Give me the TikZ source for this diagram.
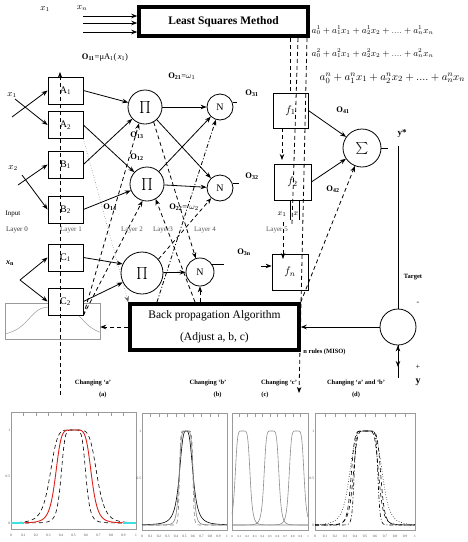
\documentclass[tikz,border=0pt]{standalone}
\usepackage{fontspec}
\setmainfont{Liberation Serif}
\usepackage{amsmath}
\usetikzlibrary{arrows.meta, positioning}
\definecolor{PlotGray}{HTML}{9A9A9A}
\definecolor{LayerGray}{HTML}{555555}
\definecolor{BellRed}{HTML}{E0201B}
\definecolor{BellCyan}{HTML}{3FE0E0}
% generalised bell, clamped so pgfmath stays in range
\newcommand{\gbell}[3]{1/(1+exp(max(min(2*#3*ln(abs((\x-#1)/#2)+0.0001),9),-9)))}

\begin{document}
\begin{tikzpicture}[x=1pt, y=-1pt, line width=0.8pt,
  layerbox/.style={rectangle, draw, fill=white, minimum width=35pt, minimum height=27pt, inner sep=0pt,
    font=\fontsize{10}{10}\selectfont},
  funcbox/.style={rectangle, draw, minimum width=36pt, minimum height=36pt, inner sep=0pt,
    font=\fontsize{11}{11}\selectfont},
  algobox/.style={rectangle, draw, line width=3.5pt, inner sep=0pt, align=center},
  pinode/.style={circle, draw, minimum size=34pt, inner sep=0pt, font=\fontsize{12}{12}\selectfont},
  nnode/.style={circle, draw, minimum size=26pt, inner sep=0pt, font=\fontsize{10}{10}\selectfont},
  olabel/.style={font=\bfseries\fontsize{8.5}{9}\selectfont, inner sep=0pt},
  layerlabel/.style={font=\fontsize{7}{7}\selectfont, text=LayerGray, inner sep=0pt},
  changelabel/.style={font=\bfseries\fontsize{6.5}{7}\selectfont, inner sep=0pt},
  ticklabel/.style={font=\fontsize{3.5}{4}\selectfont, inner sep=0.5pt, text=black!70},
  plotframe/.style={draw=PlotGray, line width=0.4pt},
  arrow/.style={-{Stealth[length=6pt,width=4.5pt]}},
  dashline/.style={dash pattern=on 4pt off 3pt},
  dashdotline/.style={dash pattern=on 4pt off 2pt on 1pt off 2pt}
]
\useasboundingbox (0,0) rectangle (467,542);

% small membership plot behind C2
\node[plotframe, minimum width=95pt, minimum height=36pt, inner sep=0pt] (mf) at (52.5,321) {};
\begin{scope}[shift={(5,337)}, xscale=95, yscale=-30]
  \draw[PlotGray, line width=0.5pt] plot[domain=0:1, samples=80] (\x,{\gbell{0.53}{0.31}{2}});
\end{scope}

% least squares block
\node[algobox, minimum width=169pt, minimum height=29pt, font=\bfseries\fontsize{11.5}{12}\selectfont]
  (lsm) at (223.5,21.5) {Least Squares Method};
\node[font=\fontsize{9}{9}\selectfont] (xa) at (45,9) {$x_1$};
\node[font=\fontsize{9}{9}\selectfont] (xb) at (82,8) {$x_n$};
\foreach \yy [count=\i] in {16,23,32} {
  \coordinate (lsin\i) at (83,\yy);
  \draw[arrow] (lsin\i) -- (lsin\i -| lsm.west);
}
\node[anchor=west, font=\fontsize{9}{9}\selectfont] (eq1) at (308,30) {$a_0^1+a_1^1x_1+a_2^1x_2+....+a_n^1x_n$};
\node[anchor=west, font=\fontsize{9}{9}\selectfont] (eq2) at (308,53) {$a_0^2+a_1^2x_1+a_2^2x_2+....+a_n^2x_n$};
\node[anchor=west, font=\fontsize{11}{11}\selectfont] (eq3) at (316,78) {$a_0^n+a_1^nx_1+a_2^nx_2+....+a_n^nx_n$};

% layer 1
\node[layerbox] (a1) at (65.5,90.5) {A\textsubscript{1}};
\node[layerbox] (a2) at (65.5,125) {A\textsubscript{2}};
\node[layerbox] (b1) at (65.5,164.5) {B\textsubscript{1}};
\node[layerbox] (b2) at (65.5,209.5) {B\textsubscript{2}};
\node[layerbox] (c1) at (65.5,257.5) {C\textsubscript{1}};
\node[layerbox] (c2) at (65.5,301.5) {C\textsubscript{2}};

% layers 2 and 3
\node[pinode] (p1) at (145,107) {$\prod$};
\node[pinode] (p2) at (147,184) {$\prod$};
\node[pinode, minimum size=42pt] (p3) at (142,273) {$\prod$};
\node[nnode] (n1) at (220,107) {N};
\node[nnode] (n2) at (220,188) {N};
\node[nnode, minimum size=28pt] (n3) at (200,272) {N};

% layer 5 and output
\node[funcbox, minimum width=35pt, minimum height=35pt] (f1) at (290.5,110.5) {$f_1$};
\node[funcbox, minimum width=37pt] (f2) at (292.5,182) {$f_2$};
\node[funcbox] (fn) at (290,272) {$f_n$};
\node[circle, draw, minimum size=38pt, inner sep=0pt, font=\fontsize{12}{12}\selectfont] (s) at (362,148) {$\sum$};
\node[circle, draw, minimum size=36pt, inner sep=0pt] (err) at (398,327) {};
\node[algobox, minimum width=169pt, minimum height=46pt, font=\fontsize{11.5}{22}\selectfont]
  (bp) at (214.5,327) {Back propagation Algorithm\\(Adjust a, b, c)};

% inputs
\node[font=\fontsize{9}{9}\selectfont] (x1) at (12,95) {$x_1$};
\node[font=\fontsize{9}{9}\selectfont] (x2) at (13,168) {$x_2$};
\node[font=\bfseries\fontsize{8}{8}\selectfont] (xn) at (10,263) {\textit{x}\textsubscript{n}};
\coordinate (x1u) at (12,117);
\coordinate (x1d) at (15,99);
\coordinate (x2u) at (18,185);
\coordinate (x2d) at (22,175);
\coordinate (xnin) at (20,280);
\draw[arrow] (x1u) -- (a1.west);
\draw[arrow] (x1d) -- (a2.west);
\draw[arrow] (x2u) -- (b1.west);
\draw[arrow] (x2d) -- (b2.west);
\draw[arrow] (xnin) -- (c1.west);
\draw[arrow] (xnin) -- (c2.west);

% forward connections
\draw[arrow] (a1.east) -- (p1);
\draw[arrow] (a2.east) -- (p2);
\draw[arrow] (b1.east) -- (p1);
\draw[arrow] (b2.east) -- (p2);
\draw[arrow] (c1.east) -- (p3.155);
\draw[arrow] (c2.east) -- (p3);
\draw[arrow] (p1) -- (n1);
\draw[arrow] (p1) -- (n2);
\draw[arrow] (p2) -- (n2);
\draw[arrow] (p2) -- (n1);
\draw[arrow] (p3) -- (n3);
\draw (n1.20) -- ++(4,0);
\draw (n2.20) -- ++(6,0);
\draw (n3.30) -- ++(12,0);
\coordinate (fnin) at (261,266);
\draw[arrow] (fnin) -- (fnin -| fn.west);
\draw[arrow] (f1.east) -- (s);
\draw[arrow] (f2.east) -- (s);
\draw (s.east) -- ++(7,0);
\coordinate (ystar) at (398,146);
\draw (ystar) -- (err.north);
\draw[arrow] (err.west) -- (bp.east);
\coordinate (yin) at (398,378);
\coordinate (ydown) at (398,367);
\draw[arrow] (yin) -- (err.south);
\draw[arrow] (err.south) -- (ydown);
\coordinate (x1t) at (290,200);
\coordinate (x2t) at (299,200);
\draw (x1t) -- ++(0,20);
\draw (x2t) -- ++(0,20);

% least squares paths
\coordinate (ls1) at (290,38);
\coordinate (ls2) at (298,38);
\coordinate (ls3) at (307,38);
\coordinate (ls2e) at (292,224);
\coordinate (ls3e) at (299,393);
\draw[dashline] (ls1) -- (ls1 |- f1.north);
\draw[dashline] (ls2) -- (ls2e);
\draw[arrow, dashline] (ls3) -- (ls3e);
\coordinate (f1d) at (282,128);
\coordinate (f2u) at (282,160);
\coordinate (l5d) at (283,222);
\coordinate (fnu) at (283,259);
\draw[arrow, dashline] (f1d) -- (f2u);
\draw[arrow, dashline] (l5d) -- (fnu);

% backward paths
\coordinate (atop) at (60,72);
\coordinate (abot) at (60,395);
\draw[arrow, dashline] (abot) -- (atop);
\draw[arrow, dashline] (c2.south east) -- (p1.250);
\draw[arrow, dashline] (c2.south east) -- (p2.255);
\draw[arrow, dotted, line width=0.5pt, black!60] (a2.south east) -- (bp.north west);
\coordinate (bpa) at (157,302);
\coordinate (bpb) at (195,302);
\coordinate (bpc) at (200,302);
\draw[arrow, dashdotline] (bpa) -- (n1);
\draw[arrow, dashline] (bpb) -- (p2.300);
\draw[arrow, dashline] (bpc) -- (n3.south);
\draw[arrow, dashline] (p3.40) -- (n2);
\draw[arrow, dashline] (p1.300) -- (n3);
\draw[arrow, dashline] (bp.north east) -- (s);
\draw[arrow, dashline] (bp.west) -- (bp.west -| mf.east);

% labels
\node[olabel] (o11) at (105,57) {O\textsubscript{11}\textmd{=μA\textsubscript{1}(\,\textit{x}\textsubscript{1})}};
\node[olabel] (o21) at (182,76) {O\textsubscript{21}\textmd{=$\omega_1$}};
\node[olabel] (o13) at (137,135) {O\textsubscript{13}};
\node[olabel] (o12) at (137,157) {O\textsubscript{12}};
\node[olabel] (o14) at (110,207) {O\textsubscript{14}};
\node[olabel] (o22) at (184,207) {O\textsubscript{22}\textmd{= $\omega_2$}};
\node[olabel] (o31) at (252,93) {O\textsubscript{31}};
\node[olabel] (o32) at (252,176) {O\textsubscript{32}};
\node[olabel] (o3n) at (244,252) {O\textsubscript{3n}};
\node[olabel] (o41) at (343,110) {O\textsubscript{41}};
\node[olabel] (o42) at (333,189) {O\textsubscript{42}};
\node[olabel, font=\bfseries\fontsize{9}{9}\selectfont] (ys) at (402,133) {y*};
\node[changelabel] (tgt) at (413,277) {Target};
\node[font=\fontsize{8}{8}\selectfont] (minus) at (418,303) {-};
\node[font=\fontsize{8}{8}\selectfont] (plus) at (418,367) {+};
\node[font=\bfseries\fontsize{10}{10}\selectfont] (yout) at (418,382) {y};
\node[changelabel, anchor=west] (miso) at (303,352) {n rules (MISO)};
\node[font=\fontsize{7}{7}\selectfont, inner sep=0pt] (inp) at (13,214) {Input};
\node[layerlabel, text=black!80] (l0) at (17,230) {Layer 0};
\node[layerlabel] (l1) at (71,230) {Layer 1};
\node[layerlabel] (l2) at (132,230) {Layer 2};
\node[layerlabel] (l3) at (163,230) {Layer3};
\node[layerlabel] (l4) at (205,230) {Layer 4};
\node[layerlabel] (l5) at (277,230) {Layer 5};
\node[font=\fontsize{8}{8}\selectfont, inner sep=0pt] (x1s) at (282,214) {$x_1$};
\node[font=\fontsize{8}{8}\selectfont, inner sep=0pt] (x2s) at (296,214) {$x$};

\node[changelabel] (cha) at (93,383) {Changing ‘a’};
\node[changelabel, below left=5pt and -14pt of cha.south] (pa) {(a)};
\node[changelabel] (chb) at (208,383) {Changing ‘b’};
\node[changelabel, below left=5pt and -14pt of chb.south] (pb) {(b)};
\node[changelabel] (chc) at (279,383) {Changing ‘c’};
\node[changelabel, below left=5pt and 10pt of chc.south] (pc) {(c)};
\node[changelabel] (chd) at (356,383) {Changing ‘a’ and ‘b’};
\node[changelabel, below=5pt of chd.south] (pd) {(d)};

% panel (a): changing a
\begin{scope}[shift={(11,523)}, xscale=125, yscale=-93]
  \draw[plotframe] (0,-0.065) rectangle (1,1.19);
  \foreach \t in {0.1,0.2,...,0.9} \draw[plotframe] (\t,1.19) -- (\t,1.15);
  \foreach \t/\lab in {0/0,0.1/0.1,0.2/0.2,0.3/0.3,0.4/0.4,0.5/0.5,0.6/0.6,0.7/0.7,0.8/0.8,0.9/0.9,1/1}
    \node[ticklabel] at (\t,-0.13) {\lab};
  \foreach \m/\lab in {0/0,0.5/0.5,1/1} \node[ticklabel, anchor=east] at (0,\m) {\lab};
  \draw[line width=0.6pt, dashline] plot[domain=0:1, samples=120] (\x,{\gbell{0.5}{0.19}{3}});
  \draw[line width=0.6pt, dashline] plot[domain=0:1, samples=120] (\x,{\gbell{0.5}{0.10}{3}});
  \draw[BellRed, line width=0.9pt] plot[domain=0.05:0.95, samples=120] (\x,{\gbell{0.5}{0.145}{3}});
  \draw[BellCyan, line width=1.4pt] (0,0) -- (0.1,0) (0.9,0) -- (1,0);
\end{scope}

% panel (b): changing b
\begin{scope}[shift={(142,525)}, xscale=85, yscale=-94]
  \draw[plotframe] (0,-0.05) rectangle (1,1.19);
  \foreach \t in {0.1,0.2,...,0.9} \draw[plotframe] (\t,1.19) -- (\t,1.15);
  \foreach \t/\lab in {0/0,0.1/0.1,0.2/0.2,0.3/0.3,0.4/0.4,0.5/0.5,0.6/0.6,0.7/0.7,0.8/0.8,0.9/0.9,1/1}
    \node[ticklabel] at (\t,-0.12) {\lab};
  \foreach \m/\lab in {0.5/0.5,1/1} \node[ticklabel, anchor=east] at (0,\m) {\lab};
  \draw[line width=0.6pt] plot[domain=0:1, samples=120] (\x,{\gbell{0.52}{0.085}{1.6}});
  \draw[black!50, line width=0.6pt] plot[domain=0:1, samples=120] (\x,{\gbell{0.52}{0.085}{3}});
  \draw[black!50, line width=0.6pt, dashline] plot[domain=0:1, samples=120] (\x,{\gbell{0.52}{0.08}{6}});
\end{scope}

% panel (c): changing c
\begin{scope}[shift={(232,525)}, xscale=76, yscale=-94]
  \draw[plotframe] (0,-0.05) rectangle (1,1.19);
  \foreach \t in {0.1,0.2,...,0.9} \draw[plotframe] (\t,1.19) -- (\t,1.15);
  \foreach \t/\lab in {0/0,0.1/0.1,0.2/0.2,0.3/0.3,0.4/0.4,0.5/0.5,0.6/0.6,0.7/0.7,0.8/0.8,0.9/0.9,1/1}
    \node[ticklabel, font=\fontsize{3}{3}\selectfont] at (\t,-0.12) {\lab};
  \foreach \c in {0.14,0.52,0.85}
    \draw[black!45, line width=0.6pt] plot[domain=0:1, samples=120] (\x,{\gbell{\c}{0.1}{3}});
\end{scope}

% panel (d): changing a and b
\begin{scope}[shift={(315,525)}, xscale=100, yscale=-94]
  \draw[plotframe] (0,-0.05) rectangle (1,1.19);
  \foreach \t in {0.1,0.2,...,0.9} \draw[plotframe] (\t,1.19) -- (\t,1.15);
  \foreach \t/\lab in {0/0,0.1/0.1,0.2/0.2,0.3/0.3,0.4/0.4,0.5/0.5,0.6/0.6,0.7/0.7,0.8/0.8,0.9/0.9,1/1}
    \node[ticklabel] at (\t,-0.12) {\lab};
  \foreach \m/\lab in {0/0,0.5/0.5,1/1} \node[ticklabel, anchor=east] at (0,\m) {\lab};
  \draw[line width=0.6pt, dotted] plot[domain=0:1, samples=120] (\x,{\gbell{0.51}{0.17}{2.5}});
  \draw[line width=0.6pt, dashline] plot[domain=0:1, samples=120] (\x,{\gbell{0.51}{0.15}{4}});
  \draw[line width=0.6pt, dashline] plot[domain=0:1, samples=120] (\x,{\gbell{0.51}{0.13}{3}});
  \draw[line width=0.6pt, dashdotline] plot[domain=0:1, samples=120] (\x,{\gbell{0.51}{0.12}{6}});
\end{scope}
\end{tikzpicture}
\end{document}
